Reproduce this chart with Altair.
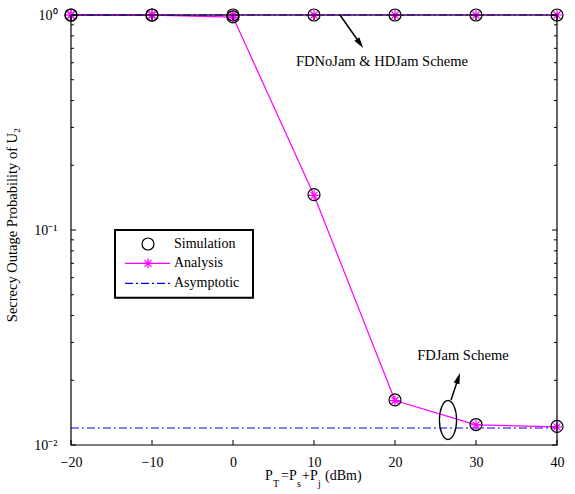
import altair as alt
import pandas as pd

# ---------------- data ----------------
x_vals = [-20, -10, 0, 10, 20, 30, 40]
fdjam_sim = [1.0, 1.0, 0.98, 0.146, 0.0162, 0.01245, 0.0122]
fdjam_ana = [0.9999, 0.9996, 0.978, 0.145, 0.0161, 0.01240, 0.01215]
nojam_sim = [1.0, 1.0, 1.0, 1.0, 1.0, 1.0, 1.0]
nojam_ana = [1.0, 1.0, 1.0, 1.0, 1.0, 1.0, 1.0]
asym_x = [-20, 40]
asym_fdjam = [0.0120, 0.0120]
asym_nojam = [1.0, 1.0]

x_ticks = [-20, -10, 0, 10, 20, 30, 40]
y_major = [0.01, 0.1, 1.0]
y_minor = [m * d for d in [0.01, 0.1] for m in range(2, 10)]

W, H = 486, 430
FONT = "Liberation Serif"
MAG = "#FF00FF"
BLUE = "#0000FF"

xs = alt.Scale(domain=[-20, 40], nice=False, zero=False)
ys = alt.Scale(type="log", domain=[0.01, 1], nice=False)

ana = pd.DataFrame({
    "x": x_vals * 2,
    "y": fdjam_ana + nojam_ana,
    "s": ["FDJam"] * 7 + ["NoJam"] * 7,
})
sim = pd.DataFrame({
    "x": x_vals * 2,
    "y": fdjam_sim + nojam_sim,
    "s": ["FDJam"] * 7 + ["NoJam"] * 7,
})
asym = pd.DataFrame({
    "x": asym_x * 2,
    "y": asym_fdjam + asym_nojam,
    "s": ["FDJam"] * 2 + ["NoJam"] * 2,
})

x_axis = alt.Axis(values=x_ticks, ticks=False, grid=False, domain=False,
                  labelFont=FONT, labelFontSize=14, labelColor="black",
                  labelPadding=10, title=None, labelFlush=False)
y_axis = alt.Axis(values=y_major, ticks=False, grid=False, domain=False,
                  labelFont=FONT, labelFontSize=14, labelColor="black",
                  labelPadding=14, title=None, labelFlush=False,
                  labelExpr="datum.value >= 0.5 ? '10\u2070' : (datum.value >= 0.05 ? '10\u207b\u00b9' : '10\u207b\u00b2')")

base_x = alt.X("x:Q", scale=xs, axis=x_axis)
base_y = alt.Y("y:Q", scale=ys, axis=y_axis)

ana_lines = alt.Chart(ana).mark_line(color=MAG, strokeWidth=1.2).encode(
    x=base_x, y=base_y, detail="s:N")
asym_lines = alt.Chart(asym).mark_line(color=BLUE, strokeWidth=1.2,
                                       strokeDash=[8, 3, 2, 3]).encode(
    x=alt.X("x:Q", scale=xs), y=alt.Y("y:Q", scale=ys), detail="s:N")

STAR = "M0,-1L0,1M-1,0L1,0M-0.7,-0.7L0.7,0.7M-0.7,0.7L0.7,-0.7"
stars = alt.Chart(ana).mark_point(shape=STAR, size=100, filled=False,
                                  stroke=MAG, strokeWidth=1.2, opacity=1).encode(
    x=alt.X("x:Q", scale=xs), y=alt.Y("y:Q", scale=ys))
circles = alt.Chart(sim).mark_point(shape="circle", size=144, filled=False,
                                    stroke="black", strokeWidth=1.2, opacity=1).encode(
    x=alt.X("x:Q", scale=xs), y=alt.Y("y:Q", scale=ys))

one = pd.DataFrame({"a": [0]})

# frame
frame = alt.Chart(one).mark_rect(fillOpacity=0, stroke="black", strokeWidth=1.2).encode(
    x=alt.value(0), x2=alt.value(W), y=alt.value(0), y2=alt.value(H))

# inward ticks
ymaj = pd.DataFrame({"y": y_major})
ymin = pd.DataFrame({"y": y_minor})
xt = pd.DataFrame({"x": x_ticks})
tick_layers = [
    alt.Chart(ymaj).mark_rule(color="black").encode(
        y=alt.Y("y:Q", scale=ys), x=alt.value(0), x2=alt.value(5)),
    alt.Chart(ymaj).mark_rule(color="black").encode(
        y=alt.Y("y:Q", scale=ys), x=alt.value(W), x2=alt.value(W - 5)),
    alt.Chart(ymin).mark_rule(color="black").encode(
        y=alt.Y("y:Q", scale=ys), x=alt.value(0), x2=alt.value(3)),
    alt.Chart(ymin).mark_rule(color="black").encode(
        y=alt.Y("y:Q", scale=ys), x=alt.value(W), x2=alt.value(W - 3)),
    alt.Chart(xt).mark_rule(color="black").encode(
        x=alt.X("x:Q", scale=xs), y=alt.value(H), y2=alt.value(H - 5)),
    alt.Chart(xt).mark_rule(color="black").encode(
        x=alt.X("x:Q", scale=xs), y=alt.value(0), y2=alt.value(5)),
]

# annotations
def txt(t, x, y, size=14, align="center", baseline="middle", angle=0):
    kw = dict(font=FONT, fontSize=size, align=align, baseline=baseline, color="black")
    if angle:
        kw["angle"] = angle
    return alt.Chart(one).mark_text(text=t, **kw).encode(x=alt.value(x), y=alt.value(y))

TRI = "M0,-1L0.55,1L-0.55,1Z"
ann = [
    alt.Chart(one).mark_rule(color="black", strokeWidth=1.5).encode(
        x=alt.value(269), x2=alt.value(289), y=alt.value(0), y2=alt.value(28.5)),
    alt.Chart(one).mark_point(shape=TRI, size=121, filled=True, color="black",
                              opacity=1, angle=145).encode(
        x=alt.value(289), y=alt.value(28.5)),
    txt("FDNoJam & HDJam Scheme", 311, 47, size=14.5),
    alt.Chart(one).mark_point(shape="M0,-1A0.44,1 0 1 1 0,1A0.44,1 0 1 1 0,-1Z",
                              size=1521, filled=False, stroke="black",
                              strokeWidth=1.3, opacity=1).encode(
        x=alt.value(377), y=alt.value(405)),
    alt.Chart(one).mark_rule(color="black", strokeWidth=1.5).encode(
        x=alt.value(380), x2=alt.value(387.3), y=alt.value(385), y2=alt.value(363.2)),
    alt.Chart(one).mark_point(shape=TRI, size=121, filled=True, color="black",
                              opacity=1, angle=18).encode(
        x=alt.value(387.3), y=alt.value(363.2)),
    txt("FDJam Scheme", 392, 341, size=14.5),
]

# legend
legend = [
    alt.Chart(one).mark_rect(fill="white", stroke="black", strokeWidth=2).encode(
        x=alt.value(44), x2=alt.value(182), y=alt.value(215), y2=alt.value(282.7)),
    alt.Chart(one).mark_point(shape="circle", size=144, filled=False, stroke="black",
                              strokeWidth=1.2, opacity=1).encode(
        x=alt.value(77), y=alt.value(229)),
    alt.Chart(one).mark_rule(color=MAG, strokeWidth=1.2).encode(
        x=alt.value(54), x2=alt.value(99), y=alt.value(248.3)),
    alt.Chart(one).mark_point(shape=STAR, size=100, filled=False, stroke=MAG,
                              strokeWidth=1.2, opacity=1).encode(
        x=alt.value(77), y=alt.value(248.3)),
    alt.Chart(one).mark_rule(color=BLUE, strokeWidth=1.2, strokeDash=[8, 3, 2, 3]).encode(
        x=alt.value(54), x2=alt.value(99), y=alt.value(268.3)),
    txt("Simulation", 103, 229, align="left"),
    txt("Analysis", 103, 248.3, align="left"),
    txt("Asymptotic", 103, 268.3, align="left"),
]

# axis titles (with subscripts)
titles = [
    txt("Secrecy Outage Probability of U\u2082", -58, 210, size=14.5, angle=270),
    txt("P", 194, 465, size=14, align="left", baseline="alphabetic"),
    txt("T", 202, 472, size=10, align="left", baseline="alphabetic"),
    txt("=P", 210, 465, size=14, align="left", baseline="alphabetic"),
    txt("s", 226, 472, size=10, align="left", baseline="alphabetic"),
    txt("+P", 231, 465, size=14, align="left", baseline="alphabetic"),
    txt("j", 247, 472, size=10, align="left", baseline="alphabetic"),
    txt("(dBm)", 254, 465, size=14, align="left", baseline="alphabetic"),
]

chart = alt.layer(
    ana_lines, asym_lines, stars, circles, frame, *tick_layers, *ann, *legend, *titles
).properties(
    width=W, height=H,
    autosize=alt.AutoSizeParams(type="none"),
    padding={"left": 71, "top": 15, "right": 18, "bottom": 49},
    background="white",
).configure_view(stroke=None)

chart.save("out.html", embed_options={"renderer": "svg", "actions": False})
